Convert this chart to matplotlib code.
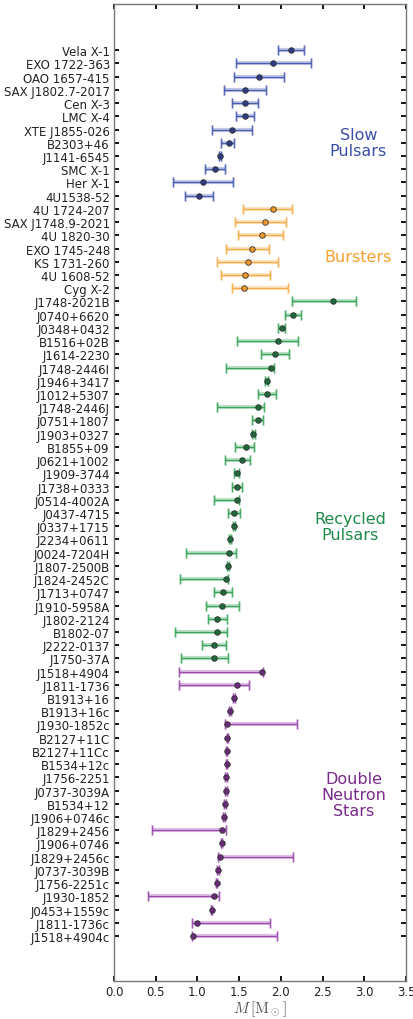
import numpy as np
import matplotlib
matplotlib.use("Agg")
import matplotlib.pyplot as plt

plt.rcParams['mathtext.fontset'] = 'cm'
plt.rcParams['font.family'] = ['DejaVu Sans']

# slow pulsars (HMXB)
slow_names = ["Vela X-1", "EXO 1722-363", "OAO 1657-415", "SAX J1802.7-2017", "Cen X-3",
              "LMC X-4", "XTE J1855-026", "B2303+46", "J1141-6545", "SMC X-1", "Her X-1",
              "4U1538-52"]
slow_m = [2.12, 1.91, 1.74, 1.57, 1.57, 1.57, 1.41, 1.38, 1.27, 1.21, 1.07, 1.02]
slow_lo = [0.16, 0.45, 0.30, 0.25, 0.16, 0.11, 0.24, 0.10, 0.01, 0.12, 0.36, 0.17]
slow_hi = [0.16, 0.45, 0.30, 0.25, 0.16, 0.11, 0.24, 0.06, 0.01, 0.12, 0.36, 0.17]

# bursters
burst_names = ["4U 1724-207", "SAX J1748.9-2021", "4U 1820-30", "EXO 1745-248",
               "KS 1731-260", "4U 1608-52", "Cyg X-2"]
burst_m = [1.90, 1.81, 1.77, 1.65, 1.61, 1.57, 1.56]
burst_lo = [0.35, 0.36, 0.28, 0.31, 0.37, 0.29, 0.14]
burst_hi = [0.23, 0.25, 0.25, 0.21, 0.35, 0.30, 0.53]

# recycled pulsars
rec_names = ["J1748-2021B", "J0740+6620", "J0348+0432", "B1516+02B", "J1614-2230",
             "J1748-2446I", "J1946+3417", "J1012+5307", "J1748-2446J", "J0751+1807",
             "J1903+0327", "B1855+09", "J0621+1002", "J1909-3744", "J1738+0333",
             "J0514-4002A", "J0437-4715", "J0337+1715", "J2234+0611", "J0024-7204H",
             "J1807-2500B", "J1824-2452C", "J1713+0747", "J1910-5958A", "J1802-2124",
             "B1802-07", "J2222-0137", "J1750-37A"]
rec_m = [2.63, 2.14, 2.01, 1.96, 1.93, 1.88, 1.83, 1.83, 1.73, 1.72,
         1.67, 1.58, 1.53, 1.47, 1.47, 1.47, 1.44, 1.44, 1.39, 1.38,
         1.37, 1.34, 1.31, 1.30, 1.24, 1.24, 1.20, 1.20]
rec_lo = [0.50, 0.09, 0.04, 0.49, 0.17, 0.54, 0.02, 0.11, 0.49, 0.07,
          0.02, 0.13, 0.20, 0.03, 0.06, 0.27, 0.07, 0.01, 0.01, 0.52,
          0.01, 0.55, 0.11, 0.20, 0.11, 0.51, 0.14, 0.40]
rec_hi = [0.27, 0.10, 0.04, 0.25, 0.17, 0.04, 0.02, 0.11, 0.07, 0.07,
          0.02, 0.10, 0.10, 0.03, 0.07, 0.03, 0.07, 0.01, 0.01, 0.08,
          0.01, 0.03, 0.11, 0.20, 0.11, 0.11, 0.14, 0.17]

# double neutron stars
dns_names = ["J1518+4904", "J1811-1736", "B1913+16", "B1913+16c", "J1930-1852c",
             "B2127+11C", "B2127+11Cc", "B1534+12c", "J1756-2251", "J0737-3039A",
             "B1534+12", "J1906+0746c", "J1829+2456", "J1906+0746", "J1829+2456c",
             "J0737-3039B", "J1756-2251c", "J1930-1852", "J0453+1559c", "J1811-1736c",
             "J1518+4904c"]
dns_m = [1.77, 1.48, 1.44, 1.39, 1.36, 1.36, 1.35, 1.35, 1.34, 1.34,
         1.33, 1.32, 1.30, 1.29, 1.27, 1.25, 1.23, 1.20, 1.17, 1.00, 0.95]
dns_lo = [0.99, 0.70, 0.01, 0.01, 0.03, 0.01, 0.01, 0.01, 0.01, 0.01,
          0.01, 0.01, 0.84, 0.01, 0.02, 0.01, 0.01, 0.79, 0.01, 0.06, 0.01]
dns_hi = [0.01, 0.14, 0.01, 0.01, 0.83, 0.01, 0.01, 0.01, 0.01, 0.01,
          0.01, 0.01, 0.04, 0.01, 0.87, 0.01, 0.01, 0.06, 0.01, 0.87, 1.00]

groups = [
    (slow_names, slow_m, slow_lo, slow_hi, "#2c3b86", "#4a5cb2", "#3b4fa6", "Slow\nPulsars"),
    (burst_names, burst_m, burst_lo, burst_hi, "#f39a2c", "#f7ab45", "#f5a030", "Bursters"),
    (rec_names, rec_m, rec_lo, rec_hi, "#1f6a3a", "#3aa55a", "#1e8a4a", "Recycled\nPulsars"),
    (dns_names, dns_m, dns_lo, dns_hi, "#6a2a7a", "#9a4aac", "#7a2a8a", "Double\nNeutron\nStars"),
]
label_pos = [(2.93, 7.0), (2.93, 15.6), (2.83, 36.0), (2.87, 56.3)]

fig = plt.figure(figsize=(4.14, 10.2), dpi=100)
ax = fig.add_axes([0.2754, 0.0373, 0.7053, 0.9578])

all_names = []
start = 0
for (names, m, lo, hi, fc, ec, tc, title), (tx, ty) in zip(groups, label_pos):
    y = np.arange(start, start + len(names))
    m = np.array(m)
    err = np.array([lo, hi])
    # wide pale band underneath the thin bar
    ax.errorbar(m, y, xerr=err, fmt='none', ecolor=ec, elinewidth=3, alpha=0.35,
                capsize=3.5, capthick=2, zorder=1)
    ax.errorbar(m, y, xerr=err, fmt='o', ms=4, mfc=fc, mec='#333333', mew=0.6,
                ecolor=ec, elinewidth=0.9, capsize=3.5, capthick=0.9, zorder=2)
    ax.text(tx, ty, title, color=tc, fontsize=11.5, ha='center', va='center',
            linespacing=1.1)
    all_names += names
    start += len(names)

ax.set_yticks(np.arange(len(all_names)))
ax.set_yticklabels(all_names, fontsize=8.5, color='#222222')
ax.set_ylim(70.4, -3.5)
ax.set_xlim(0, 3.5)
ax.set_xticks(np.arange(0, 3.51, 0.5))
ax.set_xticklabels(["%.1f" % v for v in np.arange(0, 3.51, 0.5)], fontsize=8.5,
                   color='#222222')
ax.set_xlabel(r"$M\,[\mathrm{M}_\odot]$", fontsize=11, color='#555555', labelpad=0)

ax.tick_params(direction='in', length=3.5, width=1.3, top=True, right=True, pad=3)
for sp in ax.spines.values():
    sp.set_color('#777777')
    sp.set_linewidth(1.0)

fig.savefig("out.png", dpi=100)
